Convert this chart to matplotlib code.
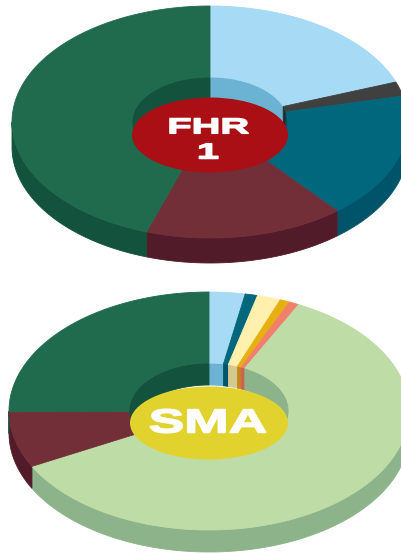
import numpy as np
import matplotlib.pyplot as plt
from matplotlib.patches import Polygon, Ellipse
from matplotlib.patheffects import AbstractPathEffect
from matplotlib.transforms import Affine2D

# FHR 1 breakdown (percent), clockwise from 12 o'clock
fhr_shares = [19.4, 2.0, 17.5, 16.3, 44.8]
fhr_top = ['#A6DAF5', '#404040', '#00677C', '#722F37', '#206A4E']
fhr_side = ['#6CB3D3', '#2A2A2A', '#00546A', '#521B29', '#13523D']

# SMA breakdown (percent), clockwise from 12 o'clock
sma_shares = [2.9, 1.0, 1.9, 0.8, 0.8, 59.9, 7.6, 25.1]
sma_top = ['#A6DAF5', '#00677C', '#FFF0AE', '#E6B012', '#F27F6C',
           '#BEDCA6', '#722F37', '#206A4E']
sma_side = ['#6CB3D3', '#00546A', '#D5C98F', '#C08A1A', '#D0604F',
            '#8DB38B', '#521B29', '#13523D']


class WideBold(AbstractPathEffect):
    """Widen glyphs about a fixed x (data units) and thicken them with a stroke."""

    def __init__(self, ax, x0, factor, stroke=1.1):
        super().__init__()
        self.ax = ax
        self.x0 = x0
        self.factor = factor
        self.stroke = stroke

    def draw_path(self, renderer, gc, tpath, affine, rgbFace=None):
        xd = self.ax.transData.transform((self.x0, 0))[0]
        wide = Affine2D().translate(-xd, 0).scale(self.factor, 1).translate(xd, 0)
        tr = affine + wide
        renderer.draw_path(gc, tpath, tr, rgbFace)
        gc0 = renderer.new_gc()
        gc0.copy_properties(gc)
        gc0.set_linewidth(self.stroke)
        gc0.set_foreground(rgbFace)
        gc0.set_joinstyle('round')
        renderer.draw_path(gc0, tpath, tr, None)
        gc0.restore()


def arc(cx, cy, rx, ry, t0, t1, drop=0.0):
    n = max(2, int(abs(t1 - t0) * 2) + 2)
    t = np.radians(np.linspace(t0, t1, n))
    return np.column_stack([cx + rx * np.sin(t), cy - ry * np.cos(t) + drop])


def donut(ax, shares, tops, sides, cx, cy, rx, ry, hrx, hry, depth):
    edges = np.concatenate([[0], np.cumsum(shares)]) / np.sum(shares) * 360
    spans = list(zip(edges[:-1], edges[1:]))

    # outer rim, front half only
    for (a, b), c in zip(spans, sides):
        lo, hi = max(a, 90), min(b, 270)
        if hi > lo:
            pts = np.vstack([arc(cx, cy, rx, ry, lo, hi),
                             arc(cx, cy, rx, ry, lo, hi, depth)[::-1]])
            ax.add_patch(Polygon(pts, fc=c, ec=c, lw=0.6))

    # inner wall, back half seen through the hole
    for (a, b), c in zip(spans, sides):
        for w0, w1 in [(0, 90), (270, 360)]:
            lo, hi = max(a, w0), min(b, w1)
            if hi > lo:
                pts = np.vstack([arc(cx, cy, hrx, hry, lo, hi),
                                 arc(cx, cy, hrx, hry, lo, hi, depth)[::-1]])
                ax.add_patch(Polygon(pts, fc=c, ec=c, lw=0.6))

    # top faces
    for (a, b), c in zip(spans, tops):
        pts = np.vstack([arc(cx, cy, rx, ry, a, b),
                         arc(cx, cy, hrx, hry, a, b)[::-1]])
        ax.add_patch(Polygon(pts, fc=c, ec=c, lw=0.6))


fig = plt.figure(figsize=(4.01, 5.54), dpi=100)
ax = fig.add_axes([0, 0, 1, 1])
ax.set_xlim(0, 401)
ax.set_ylim(554, 0)
ax.axis('off')

donut(ax, fhr_shares, fhr_top, fhr_side, 210, 122, 198, 116, 78, 45, 25)
ax.add_patch(Ellipse((210, 135), 156, 75, fc='#A90F14', ec='none'))
for txt, yb in [('FHR', 133.3), ('1', 158.5)]:
    ax.text(208, yb, txt, ha='center', va='baseline', color='white',
            fontsize=15.5, fontweight='bold', family='Liberation Sans',
            path_effects=[WideBold(ax, 208, 1.85)])

donut(ax, sma_shares, sma_top, sma_side, 209, 411, 200, 119, 80, 48, 22)
ax.add_patch(Ellipse((209, 423), 158, 73, fc='#E2D22E', ec='none'))
ax.text(208, 432.5, 'SMA', ha='center', va='baseline', color='white',
        fontsize=24, fontweight='bold', family='Liberation Sans',
        path_effects=[WideBold(ax, 208, 1.6)])

fig.savefig('out.png', dpi=100)
